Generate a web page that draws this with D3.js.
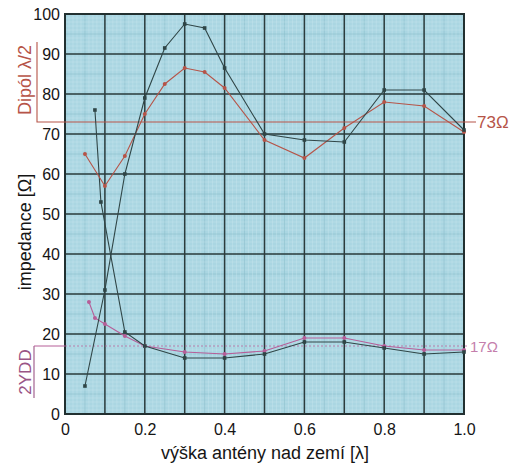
<!DOCTYPE html>
<html>
<head>
<meta charset="utf-8">
<script src="https://cdn.jsdelivr.net/npm/d3@7"></script>
<style>
  html, body { margin: 0; padding: 0; background: #fff; }
  svg { display: block; font-family: "Liberation Sans", Arial, sans-serif; }
</style>
</head>
<body>
<svg id="chart" width="517" height="467"></svg>
<script>
// Axis ticks
const xTicks = [0, 0.2, 0.4, 0.6, 0.8, 1.0];
const xTickLabels = ["0", "0.2", "0.4", "0.6", "0.8", "1.0"];
const yTicks = [0, 10, 20, 30, 40, 50, 60, 70, 80, 90, 100];

// Half-wave dipole, red curve
const dipoleX = [0.05, 0.1, 0.15, 0.2, 0.25, 0.3, 0.35, 0.4, 0.5, 0.6, 0.7, 0.8, 0.9, 1.0];
const dipoleR = [65, 57, 64.5, 75, 82.5, 86.5, 85.5, 81.5, 68.5, 64, 71.5, 78, 77, 70.5];

// Half-wave dipole, dark curve
const dipoleDarkX = [0.05, 0.1, 0.15, 0.2, 0.25, 0.3, 0.35, 0.4, 0.5, 0.6, 0.7, 0.8, 0.9, 1.0];
const dipoleDark = [7, 31, 60, 79, 91.5, 97.5, 96.5, 86.5, 70, 68.5, 68, 81, 81, 71];

// 2YDD, dark curve
const yddDarkX = [0.075, 0.09, 0.15, 0.2, 0.3, 0.4, 0.5, 0.6, 0.7, 0.8, 0.9, 1.0];
const yddDark = [76, 53, 20.5, 17, 14, 14, 15, 18, 18, 16.5, 15, 15.5];

// 2YDD, purple curve
const yddX = [0.06, 0.075, 0.1, 0.15, 0.2, 0.3, 0.4, 0.5, 0.6, 0.7, 0.8, 0.9, 1.0];
const yddR = [28, 24, 22.5, 19.5, 17, 15.5, 15, 15.75, 19, 19, 17, 16, 16];

// Reference impedances
const dipoleRef = 73;
const yddRef = 17;

const svg = d3.select("#chart");
const pLeft = 65, pRight = 464, pTop = 14, pBottom = 414;

const x = d3.scaleLinear().domain([0, 1]).range([pLeft, pRight]);
const y = d3.scaleLinear().domain([0, 100]).range([pBottom, pTop]);

const RED = "#b65448";
const DARK = "#2f4546";
const PURPLE = "#b65e98";
const PURPLE_TEXT = "#9a5586";

// graph-paper background
svg.append("rect")
  .attr("x", pLeft).attr("y", pTop)
  .attr("width", pRight - pLeft).attr("height", pBottom - pTop)
  .attr("fill", "#aad6e2");

const fine = svg.append("g");
d3.range(1, 100).forEach(i => {
  const half = i % 5 === 0;
  const col = half ? "#8cbfcc" : "#cfeaf1";
  fine.append("line")
    .attr("x1", x(i / 100)).attr("x2", x(i / 100))
    .attr("y1", pTop).attr("y2", pBottom)
    .attr("stroke", col)
    .attr("stroke-width", half ? 0.8 : 0.7)
    .attr("opacity", half ? 0.7 : 0.5);
  fine.append("line")
    .attr("y1", y(i)).attr("y2", y(i))
    .attr("x1", pLeft).attr("x2", pRight)
    .attr("stroke", col)
    .attr("stroke-width", half ? 0.8 : 0.7)
    .attr("opacity", half ? 0.7 : 0.5);
});

// major grid every 0.1 / 10
const grid = svg.append("g").attr("stroke", "#2c3c3d").attr("stroke-width", 1.5);
d3.range(1, 10).forEach(i => {
  grid.append("line")
    .attr("x1", x(i / 10)).attr("x2", x(i / 10))
    .attr("y1", pTop).attr("y2", pBottom);
  grid.append("line")
    .attr("y1", y(i * 10)).attr("y2", y(i * 10))
    .attr("x1", pLeft).attr("x2", pRight);
});
svg.append("rect")
  .attr("x", pLeft).attr("y", pTop)
  .attr("width", pRight - pLeft).attr("height", pBottom - pTop)
  .attr("fill", "none").attr("stroke", "#223030").attr("stroke-width", 2);

// axes
const xAxis = d3.axisBottom(x).tickValues(xTicks)
  .tickFormat((d, i) => xTickLabels[i]).tickSize(0).tickPadding(10);
svg.append("g").attr("transform", `translate(0,${pBottom})`).call(xAxis)
  .call(g => g.select(".domain").remove())
  .selectAll("text").attr("font-size", 16).attr("fill", "#151515")
  .attr("font-family", "Liberation Sans, Arial, sans-serif");

const yAxis = d3.axisLeft(y).tickValues(yTicks).tickSize(0).tickPadding(5);
svg.append("g").attr("transform", `translate(${pLeft},0)`).call(yAxis)
  .call(g => g.select(".domain").remove())
  .selectAll("text").attr("font-size", 16).attr("fill", "#151515")
  .attr("font-family", "Liberation Sans, Arial, sans-serif");

// axis titles
svg.append("text")
  .attr("x", 265).attr("y", 459)
  .attr("text-anchor", "middle").attr("font-size", 18).attr("fill", "#151515")
  .text("výška antény nad zemí [λ]");

svg.append("text")
  .attr("transform", "translate(31,232) rotate(-90)")
  .attr("text-anchor", "middle").attr("font-size", 18).attr("fill", "#151515")
  .text("impedance [Ω]");

// dipole reference bracket and 73 Ω line
svg.append("path")
  .attr("d", `M37,${y(dipoleRef) - 80} V${y(dipoleRef)} H${pRight + 12}`)
  .attr("fill", "none").attr("stroke", RED).attr("stroke-width", 1.1);
svg.append("text")
  .attr("transform", `translate(31,${y(dipoleRef) - 42}) rotate(-90)`)
  .attr("text-anchor", "middle").attr("font-size", 18).attr("fill", RED)
  .text("Dipól λ/2");
svg.append("text")
  .attr("x", pRight + 13).attr("y", y(dipoleRef) + 6)
  .attr("font-size", 17).attr("fill", RED)
  .text("73Ω");

// 2YDD reference bracket and 17 Ω line
svg.append("line")
  .attr("x1", 34).attr("x2", 34)
  .attr("y1", y(yddRef)).attr("y2", y(yddRef) + 52)
  .attr("stroke", PURPLE_TEXT).attr("stroke-width", 1.1);
svg.append("line")
  .attr("x1", 34).attr("x2", pLeft)
  .attr("y1", y(yddRef)).attr("y2", y(yddRef))
  .attr("stroke", PURPLE).attr("stroke-width", 1);
svg.append("line")
  .attr("x1", pLeft).attr("x2", pRight + 4)
  .attr("y1", y(yddRef)).attr("y2", y(yddRef))
  .attr("stroke", PURPLE).attr("stroke-width", 1)
  .attr("stroke-dasharray", "2,2").attr("opacity", 0.75);
svg.append("text")
  .attr("transform", `translate(31,${y(yddRef) + 26}) rotate(-90)`)
  .attr("text-anchor", "middle").attr("font-size", 17).attr("fill", PURPLE_TEXT)
  .text("2YDD");
svg.append("text")
  .attr("x", pRight + 6).attr("y", y(yddRef) + 6)
  .attr("font-size", 15).attr("fill", PURPLE).attr("opacity", 0.8)
  .text("17Ω");

// series
const line = d3.line().x(d => x(d[0])).y(d => y(d[1]));
function series(xs, ys, color, shape) {
  const pts = xs.map((v, i) => [v, ys[i]]);
  svg.append("path").datum(pts).attr("d", line)
    .attr("fill", "none").attr("stroke", color).attr("stroke-width", 1.1);
  const g = svg.append("g").attr("fill", color);
  if (shape === "square") {
    g.selectAll("rect").data(pts).join("rect")
      .attr("x", d => x(d[0]) - 1.8).attr("y", d => y(d[1]) - 1.8)
      .attr("width", 3.6).attr("height", 3.6);
  } else {
    g.selectAll("circle").data(pts).join("circle")
      .attr("cx", d => x(d[0])).attr("cy", d => y(d[1])).attr("r", 2);
  }
}
series(yddX, yddR, PURPLE, "circle");
series(yddDarkX, yddDark, DARK, "square");
series(dipoleX, dipoleR, RED, "circle");
series(dipoleDarkX, dipoleDark, DARK, "square");
</script>
</body>
</html>
